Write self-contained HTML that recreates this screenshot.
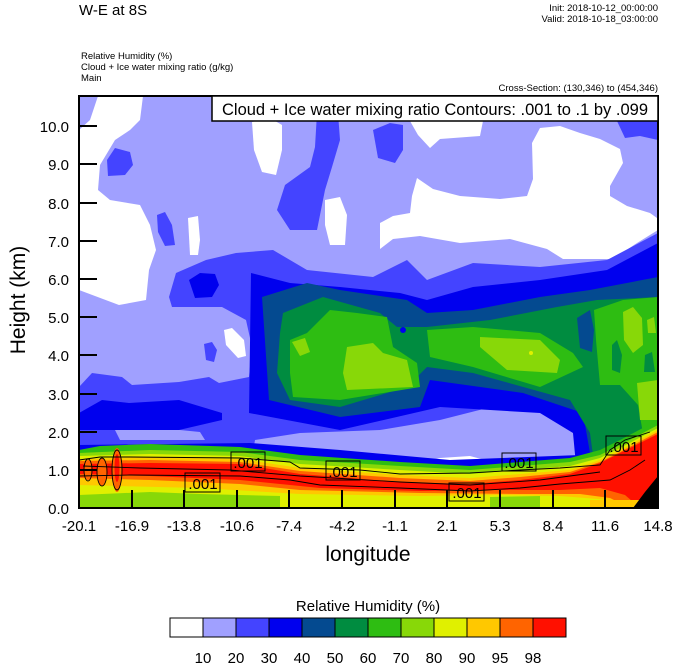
<!DOCTYPE html>
<html><head><meta charset="utf-8"><style>
html,body{margin:0;padding:0;background:#fff;}
body{width:674px;height:667px;overflow:hidden;font-family:"Liberation Sans",Arial,sans-serif;}
</style></head><body>
<svg width="674" height="667" viewBox="0 0 674 667" xmlns="http://www.w3.org/2000/svg" font-family="Liberation Sans, Arial, sans-serif">
<defs><clipPath id="pc"><rect x="79" y="96" width="579" height="412"/></clipPath></defs>
<g clip-path="url(#pc)">
<rect x="79" y="96" width="579" height="412" fill="#a0a0ff"/>
<!-- white patches -->
<polygon fill="#fff" points="98,96 143,96 140,120 130,130 115,140 100,165 98,190 110,200 140,205 150,225 156,250 149,270 146,300 119,305 79,290 79,130 90,120"/>
<polygon fill="#fff" points="252,122 270,118 282,125 282,150 276,175 262,172 254,150"/>
<polygon fill="#fff" points="325,200 340,197 347,215 345,245 330,245 325,225"/>
<polygon fill="#fff" points="188,218 198,216 200,240 198,255 190,255"/>
<polygon fill="#fff" points="224,330 232,328 244,340 246,356 238,358 226,345"/>
<polygon fill="#fff" points="410,121 483,121 480,136 440,139 430,148 418,135"/>
<polygon fill="#fff" points="380,223 393,216 410,213 412,196 417,178 433,189 460,196 500,199 527,196 533,179 532,143 540,128 560,126 580,133 600,139 620,149 623,163 610,186 610,196 627,206 650,213 657,218 658,230 637,243 613,259 563,259 547,249 510,239 460,243 420,236 393,239 380,249"/>
<!-- blue patches -->
<g fill="#4444ff">
<polygon points="317,113 338,113 340,140 332,167 325,190 317,230 290,230 277,210 285,185 310,167 315,147"/>
<polygon points="107,160 115,148 130,152 133,165 125,175 108,176"/>
<polygon points="157,215 165,212 172,225 175,245 165,246 158,232"/>
<polygon points="373,130 390,123 403,125 403,150 395,163 378,158"/>
<polygon points="617,121 658,121 658,140 640,136 625,138"/>
<polygon points="204,344 212,342 217,350 214,362 206,360"/>
<polygon points="169,297 176,273 206,260 236,253 273,250 307,270 373,277 407,260 427,280 473,263 540,267 607,260 658,233 658,508 79,508 79,387 92,373 122,377 132,385 179,382 209,377 219,383 249,377 252,347 246,320 222,307 172,307"/>
</g>
<!-- lavender lower pocket -->
<polygon fill="#a0a0ff" points="250,470 255,440 300,433 380,430 440,420 507,403 545,408 573,413 578,440 575,470"/>
<polygon fill="#a0a0ff" points="115,430 150,427 200,432 205,440 120,440"/>
<polygon fill="#fff" points="423,462 440,458 470,456 485,460 480,470 425,470"/>
<!-- dark blue -->
<g fill="#0000ee">
<polygon points="189,280 200,273 215,274 219,285 212,297 195,298"/>
<polygon points="251,273 290,283 340,287 400,293 427,300 473,287 540,280 607,270 658,243 658,508 580,508 573,433 540,413 440,407 340,430 249,413"/>
<polygon points="79,413 102,400 129,403 179,400 222,413 222,420 179,430 112,430 79,430"/>
<polygon points="79,445 250,443 340,450 450,460 580,455 580,470 79,470"/>
</g>
<!-- dark teal blue -->
<polygon fill="#044a90" points="262,297 307,283 340,290 407,300 427,313 473,310 540,297 590,290 658,277 658,508 595,508 590,453 583,413 523,393 430,380 420,407 340,417 269,400"/>
<!-- green -->
<polygon fill="#008c40" points="280,333 283,313 323,297 380,313 397,327 427,327 490,320 557,307 597,300 658,297 658,508 600,508 590,433 570,400 473,373 427,367 407,387 340,407 290,400 277,373"/>
<polygon fill="#044a90" points="577,318 590,310 594,330 592,352 580,348"/>
<circle cx="403" cy="330" r="3" fill="#0000ee"/>
<!-- green2 -->
<g fill="#2ebd12">
<polygon points="290,340 307,333 330,310 357,313 387,317 393,347 417,363 420,387 340,400 293,397 290,373"/>
<polygon points="427,330 473,327 540,333 573,353 583,367 540,387 473,367 430,357"/>
<polygon points="594,310 623,300 658,297 658,440 645,445 638,405 620,385 600,385 596,340"/>
</g>
<polygon fill="#008c40" points="612,345 617,340 622,355 620,373 612,370"/>
<polygon fill="#008c40" points="645,355 652,352 655,372 644,372"/>
<!-- light green -->
<g fill="#88d808">
<polygon points="347,347 373,343 383,353 407,360 413,387 347,390 343,373"/>
<polygon points="292,342 305,338 310,352 300,356"/>
<polygon points="480,337 540,340 560,360 557,373 507,370 480,347"/>
<polygon points="623,312 633,307 642,318 643,345 633,353 624,340"/>
<polygon points="647,320 654,317 656,333 648,333"/>
<polygon points="637,383 658,380 658,420 640,420"/>
</g>
<circle cx="531" cy="353" r="2" fill="#e0f000"/>
<!-- surface layers -->
<polygon fill="#2ebd12" points="79,450 100,446 150,444 240,447 300,455 400,462 470,466 520,462 570,458 600,450 620,440 658,420 658,508 79,508"/>
<polygon fill="#88d808" points="79,453 150,450 240,452 300,460 400,466 470,470 520,466 570,462 600,455 620,445 658,425 658,508 79,508"/>
<polygon fill="#e0f000" points="79,456 150,454 240,456 300,464 400,470 470,474 520,470 570,466 600,458 620,448 658,428 658,508 79,508"/>
<polygon fill="#ffc800" points="79,459 150,457 240,459 300,468 400,475 470,478 520,474 570,470 600,460 620,450 658,430 658,508 630,508 610,500 560,496 500,495 420,496 300,494 200,488 79,485"/>
<polygon fill="#ff6400" points="79,461 150,460 240,462 300,471 400,478 470,481 520,477 570,472 600,462 620,452 658,432 658,508 630,508 610,498 580,494 520,494 420,493 300,490 240,484 150,480 79,478"/>
<polygon fill="#ff1000" points="79,464 150,463 240,464 300,474 400,482 470,484 520,480 570,474 600,463 620,453 658,434 658,508 640,508 625,495 600,488 560,490 500,490 420,491 320,488 240,480 150,476 79,474"/>
<polygon fill="#ffc800" points="590,500 658,500 658,508 590,508"/>
<polygon fill="#88d808" points="79,495 150,492 200,494 280,496 280,508 79,508"/>
<polygon fill="#88d808" points="490,497 540,496 540,508 490,508"/>
<!-- spikes near left -->
<ellipse cx="117" cy="470" rx="5" ry="22" fill="#ff6400"/>
<ellipse cx="117" cy="468" rx="2.5" ry="14" fill="#ff1000"/>
<ellipse cx="102" cy="472" rx="5" ry="14" fill="#ff6400"/>
<ellipse cx="88" cy="470" rx="4" ry="10" fill="#ff6400"/>
<polygon fill="#000" points="658,476 658,508 633,508 645,492"/>
<!-- contours -->
<g fill="none" stroke="#000" stroke-width="0.9">
<path d="M79,460 L100,457 L130,457 L240,458 L290,462 L300,468 L360,470 L400,474 L470,473 L520,470 L560,468 L600,465 L610,450 L625,440 L650,432"/>
<path d="M79,476 L130,475 L240,476 L290,480 L320,485 L400,488 L470,491 L520,488 L560,484 L610,480 L630,470 L645,460"/>
<path d="M83,466 L140,468 L230,470 L300,476 L400,482 L470,485 L540,480 L600,472"/>
<ellipse cx="117" cy="470" rx="5" ry="20"/>
<ellipse cx="102" cy="472" rx="5" ry="14"/>
<ellipse cx="88" cy="470" rx="4" ry="11"/>
</g>
<!-- labels -->
<g font-size="15" text-anchor="middle">
<rect x="185" y="473" width="35" height="19" fill="none" stroke="#000"/><text x="203" y="489">.001</text>
<rect x="231" y="452" width="34" height="19" fill="none" stroke="#000"/><text x="248" y="468">.001</text>
<rect x="326" y="461" width="34" height="19" fill="none" stroke="#000"/><text x="343" y="477">.001</text>
<rect x="449" y="483" width="35" height="18" fill="none" stroke="#000"/><text x="467" y="498">.001</text>
<rect x="502" y="453" width="34" height="18" fill="none" stroke="#000"/><text x="519" y="468">.001</text>
<rect x="606" y="436" width="35" height="19" fill="none" stroke="#000"/><text x="624" y="452">.001</text>
</g>
</g>
<!-- frame -->
<rect x="79" y="96" width="579" height="412" fill="none" stroke="#000" stroke-width="2"/>
<g stroke="#000" stroke-width="2">
<line x1="79" y1="470" x2="97" y2="470"/><line x1="79" y1="432" x2="97" y2="432"/><line x1="79" y1="394" x2="97" y2="394"/><line x1="79" y1="355" x2="97" y2="355"/><line x1="79" y1="317" x2="97" y2="317"/><line x1="79" y1="279" x2="97" y2="279"/><line x1="79" y1="241" x2="97" y2="241"/><line x1="79" y1="203" x2="97" y2="203"/><line x1="79" y1="164" x2="97" y2="164"/><line x1="79" y1="126" x2="97" y2="126"/>
<line x1="132" y1="508" x2="132" y2="490"/><line x1="184" y1="508" x2="184" y2="490"/><line x1="237" y1="508" x2="237" y2="490"/><line x1="289" y1="508" x2="289" y2="490"/><line x1="342" y1="508" x2="342" y2="490"/><line x1="395" y1="508" x2="395" y2="490"/><line x1="447" y1="508" x2="447" y2="490"/><line x1="500" y1="508" x2="500" y2="490"/><line x1="553" y1="508" x2="553" y2="490"/><line x1="605" y1="508" x2="605" y2="490"/>
</g>
<g font-size="15" text-anchor="end">
<text x="69" y="514">0.0</text><text x="69" y="476">1.0</text><text x="69" y="438">2.0</text><text x="69" y="400">3.0</text><text x="69" y="361">4.0</text><text x="69" y="323">5.0</text><text x="69" y="285">6.0</text><text x="69" y="247">7.0</text><text x="69" y="209">8.0</text><text x="69" y="170">9.0</text><text x="69" y="132">10.0</text>
</g>
<g font-size="15" text-anchor="middle">
<text x="79" y="531">-20.1</text><text x="132" y="531">-16.9</text><text x="184" y="531">-13.8</text><text x="237" y="531">-10.6</text><text x="289" y="531">-7.4</text><text x="342" y="531">-4.2</text><text x="395" y="531">-1.1</text><text x="447" y="531">2.1</text><text x="500" y="531">5.3</text><text x="553" y="531">8.4</text><text x="605" y="531">11.6</text><text x="658" y="531">14.8</text>
</g>
<text x="368" y="561" font-size="21" text-anchor="middle">longitude</text>
<text transform="translate(25,300) rotate(-90)" font-size="21" text-anchor="middle">Height (km)</text>
<!-- info box -->
<rect x="212" y="96" width="446" height="25" fill="#fff" stroke="#000" stroke-width="1.5"/>
<text x="435" y="115" font-size="16.5" text-anchor="middle">Cloud + Ice water mixing ratio Contours: .001 to .1 by .099</text>
<!-- headers -->
<text x="79" y="15" font-size="15">W-E at 8S</text>
<g font-size="9.5" text-anchor="end"><text x="658" y="11">Init: 2018-10-12_00:00:00</text><text x="658" y="22">Valid: 2018-10-18_03:00:00</text><text x="658" y="91">Cross-Section: (130,346) to (454,346)</text></g>
<g font-size="9.5"><text x="81" y="59">Relative Humidity   (%)</text><text x="81" y="70">Cloud + Ice water mixing ratio   (g/kg)</text><text x="81" y="81">Main</text></g>
<!-- colorbar -->
<text x="368" y="611" font-size="15" text-anchor="middle">Relative Humidity  (%)</text>
<g stroke="#000" stroke-width="1">
<rect x="170" y="618" width="33" height="19" fill="#fff"/><rect x="203" y="618" width="33" height="19" fill="#a0a0ff"/><rect x="236" y="618" width="33" height="19" fill="#4444ff"/><rect x="269" y="618" width="33" height="19" fill="#0000ee"/><rect x="302" y="618" width="33" height="19" fill="#044a90"/><rect x="335" y="618" width="33" height="19" fill="#008c40"/><rect x="368" y="618" width="33" height="19" fill="#2ebd12"/><rect x="401" y="618" width="33" height="19" fill="#88d808"/><rect x="434" y="618" width="33" height="19" fill="#e0f000"/><rect x="467" y="618" width="33" height="19" fill="#ffc800"/><rect x="500" y="618" width="33" height="19" fill="#ff6400"/><rect x="533" y="618" width="33" height="19" fill="#ff1000"/>
</g>
<g font-size="15" text-anchor="middle">
<text x="203" y="663">10</text><text x="236" y="663">20</text><text x="269" y="663">30</text><text x="302" y="663">40</text><text x="335" y="663">50</text><text x="368" y="663">60</text><text x="401" y="663">70</text><text x="434" y="663">80</text><text x="467" y="663">90</text><text x="500" y="663">95</text><text x="533" y="663">98</text>
</g>
</svg>
</body></html>
